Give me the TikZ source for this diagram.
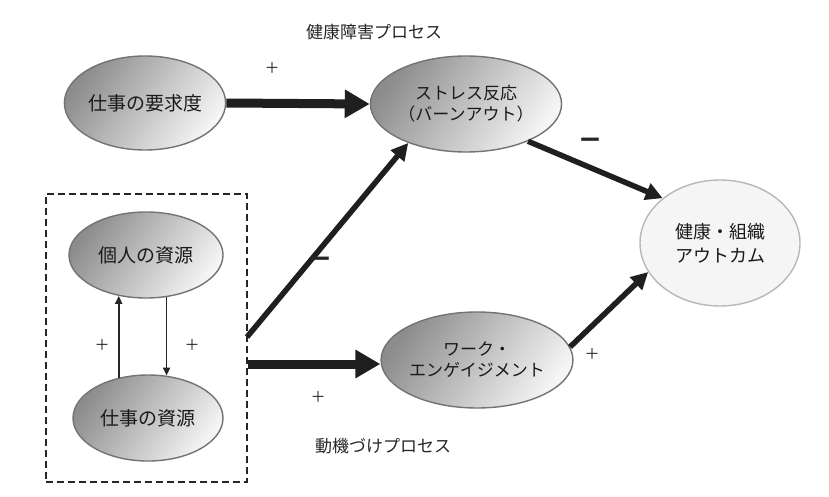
\documentclass[tikz,border=0pt]{standalone}
\usepackage{fontspec}
\setmainfont{Noto Sans CJK JP}
\newfontfamily\signfont{DejaVu Sans}
\usetikzlibrary{shapes.geometric,arrows.meta}
\begin{document}
\begin{tikzpicture}[x=1pt,y=-1pt,
  oval/.style={ellipse,draw=black!55,line width=1.4pt,inner sep=0pt,
    top color=black!45,bottom color=black!4,shading angle=55,
    text=black!90,align=center},
  outc/.style={ellipse,draw=black!28,line width=1.4pt,inner sep=0pt,
    fill=black!4,text=black!90,align=center},
  bigarrow/.style={line width=9pt,black!88,-{Triangle[length=25pt,width=27pt]}},
  midarrow/.style={line width=5.5pt,black!88,-{Triangle[length=17pt,width=17pt]}},
  smallarrow/.style={line width=1.8pt,black!85,-{Triangle[length=8pt,width=7pt]}},
  lbl/.style={font=\fontsize{17}{20}\selectfont,text=black!85},
  sgn/.style={font=\fontsize{15}{18}\selectfont,text=black!85},
  minus/.style={font=\signfont\bfseries\fontsize{28}{30}\selectfont,text=black!85},
]
\useasboundingbox (0,0) rectangle (829,497);
\fill[white] (0,0) rectangle (829,497);

% dashed box
\node[draw=black!85,dash pattern=on 7pt off 4pt,line width=1.6pt,
  minimum width=201pt,minimum height=288pt,inner sep=0pt] (box) at (146.5,338) {};

% nodes
\node[oval,minimum width=154pt,minimum height=94pt,font=\fontsize{19}{22}\selectfont] (demand) at (145,103) {仕事の要求度};
\node[oval,minimum width=154pt,minimum height=96pt,font=\fontsize{17}{21}\selectfont] (stress) at (466,104) {ストレス反応\\（バーンアウト）};
\node[outc,minimum width=160pt,minimum height=126pt,font=\fontsize{18}{24}\selectfont] (health) at (720,243) {健康・組織\\アウトカム};
\node[oval,minimum width=152pt,minimum height=96pt,font=\fontsize{17}{21}\selectfont] (work) at (477,360) {ワーク・\\エンゲイジメント};
\node[oval,minimum width=154pt,minimum height=86pt,font=\fontsize{19}{22}\selectfont] (pers) at (146,255) {個人の資源};
\node[oval,minimum width=150pt,minimum height=86pt,font=\fontsize{19}{22}\selectfont] (jobres) at (148,418) {仕事の資源};

% free ends on the box
\coordinate (s1) at (247,337);
\coordinate (s2) at (248,364);

% connectors
\draw[bigarrow] (demand.east) -- (stress.west);
\draw[midarrow] (s1) -- (stress.214);
\draw[bigarrow] (s2) -- (s2 -| work.west);
\draw[midarrow] (stress.329) -- (health.142);
\draw[midarrow] (work.8) -- (health.202);
\draw[smallarrow] (jobres.126) -- (jobres.126 |- pers.236);
\draw[smallarrow] (pers.296) -- (pers.296 |- jobres.67);

% labels
\node[lbl] (t1) at (374,32) {健康障害プロセス};
\node[lbl] (t2) at (383,446) {動機づけプロセス};
\node[sgn] (p1) at (272,68) {＋};
\node[sgn] (p2) at (102,345) {＋};
\node[sgn] (p3) at (192,345) {＋};
\node[sgn] (p4) at (318,397) {＋};
\node[sgn] (p5) at (592,354) {＋};
\node[minus] (m1) at (590,143) {−};
\node[minus] (m2) at (320,262) {−};
\end{tikzpicture}
\end{document}
